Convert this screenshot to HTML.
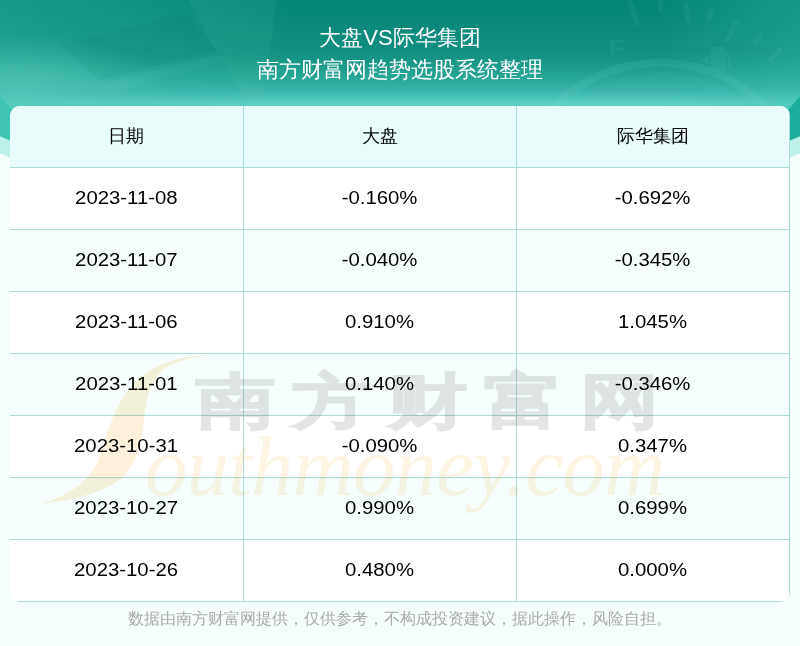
<!DOCTYPE html>
<html><head><meta charset="utf-8">
<style>
*{margin:0;padding:0;box-sizing:border-box}
html,body{width:800px;height:646px;overflow:hidden;background:#f5fefd;font-family:"Liberation Sans",sans-serif}
#bg{position:absolute;left:0;top:0;width:800px;height:646px;overflow:hidden}
.band{position:absolute;left:-575px;top:-1711px;width:1950px;height:1950px;border-radius:50%;background:#bdf0e8}
.teal{position:absolute;left:-575px;top:-1728px;width:1950px;height:1950px;border-radius:50%;
 background:linear-gradient(90deg,#3ec5b3 0px,#3ec5b3 800px,#1aad99 1360px,#1aad99 1950px)}
.hdr{position:absolute;left:-120px;top:-756px;width:1040px;height:1040px;border-radius:50%;
 background:radial-gradient(150px 50px at 140px 841px,rgba(100,210,195,0.5),rgba(100,210,195,0)),
 linear-gradient(90deg,rgba(60,190,170,0) 0px,rgba(60,190,170,0.38) 120px,rgba(60,190,170,0) 420px,rgba(60,190,170,0) 780px,rgba(60,190,170,0.34) 920px,rgba(60,190,170,0) 1040px),
 linear-gradient(180deg,#068476 756px,#078577 766px,#0f8c7d 796px,#138f82 808px,#189585 816px,#2aa898 836px,#3ab2a8 846px,#45c0b4 852px,#5ccfc2 859px,#64d4c6 886px)}
.title{position:absolute;left:0;width:800px;text-align:center;color:#fff;font-size:22px;line-height:26px}
#card{position:absolute;left:10px;top:106px;width:780px;height:496px;border-radius:10px;overflow:hidden;background:#fff}
table{border-collapse:collapse;width:779px;table-layout:fixed}
td,th{height:62px;text-align:center;font-size:18px;color:#000;font-weight:normal;border-bottom:1px solid #acdbd8;border-right:1px solid #acdbd8}
th{background:#e8fcfb;height:61px}
tr.alt td{background:#f5fefd}
td span{display:inline-block;transform:scaleX(1.13)}
.foot{position:absolute;left:0;top:609px;width:800px;text-align:center;color:#aaaaaa;font-size:16px}
.wm{position:absolute;left:0;top:0;width:800px;height:646px;pointer-events:none;overflow:hidden;isolation:auto}
.wmcn{position:absolute;top:356px;left:196px;font-family:"Liberation Sans",sans-serif;font-weight:900;font-size:80px;line-height:120px;color:#e6e5e5;-webkit-text-stroke:2px #e6e5e5;mix-blend-mode:multiply;letter-spacing:16px;white-space:nowrap;transform:scaleY(0.755);transform-origin:0 0}
.wmen{position:absolute;top:406px;left:145px;font-family:"Liberation Serif",serif;font-style:italic;font-size:85px;line-height:120px;color:#fef4e4;mix-blend-mode:multiply;letter-spacing:-0.9px;white-space:nowrap}
</style></head><body>
<div id="bg">
 <div class="band"></div>
 <div class="teal"></div>
  <div class="hdr"></div>
 <svg width="800" height="110" style="position:absolute;left:0;top:0">
  <path d="M60,45 L186,13 L216,50 L100,80 Z" fill="#006a5c" opacity="0.08"/>
  <path d="M188,0 L276,0 C272,40 268,70 262,104 L248,104 C235,80 215,50 188,0 Z" fill="#60d8b0" opacity="0.09"/>
  <path d="M100,84 L218,54 L224,62 L108,94 Z" fill="#7fe0d0" opacity="0.07"/>
  <path d="M548,113 A150,150 0 0 1 772,113" fill="none" stroke="#7fe0d0" stroke-width="8" opacity="0.11"/>
  <path d="M555,119 A142,142 0 0 1 765,119 Z" fill="#7fe0d0" opacity="0.05"/>
  <g stroke="#7fe0d0" stroke-width="5" stroke-linecap="round" opacity="0.08">
   <line x1="630" y1="3" x2="637" y2="24"/>
   <line x1="660" y1="1" x2="661" y2="10"/>
   <line x1="686" y1="4" x2="688" y2="20"/>
   <line x1="711" y1="10" x2="709" y2="20"/>
   <line x1="736" y1="22" x2="728" y2="40"/>
   <line x1="760" y1="35" x2="756" y2="42"/>
   <line x1="780" y1="50" x2="771" y2="60"/>
  </g>
  <text x="609" y="58" font-family="Liberation Sans" font-weight="bold" font-size="26" fill="#7fe0d0" opacity="0.08">F</text>
  <path d="M711,47 h14 v24 h-14 Z M701,60 l8,-5 v10 Z M726,52 l5,4 v14 h-3 v-12 l-2,-2 Z" fill="#7fe0d0" opacity="0.09"/>
 </svg>
</div>
<div class="title" style="top:25px">大盘VS际华集团</div>
<div class="title" style="top:57px">南方财富网趋势选股系统整理</div>
<div id="card">
<table>
<colgroup><col style="width:233px"><col style="width:273px"><col style="width:273px"></colgroup>
<tr><th>日期</th><th>大盘</th><th>际华集团</th></tr>
<tr><td><span>2023-11-08</span></td><td><span>-0.160%</span></td><td><span>-0.692%</span></td></tr>
<tr class="alt"><td><span>2023-11-07</span></td><td><span>-0.040%</span></td><td><span>-0.345%</span></td></tr>
<tr><td><span>2023-11-06</span></td><td><span>0.910%</span></td><td><span>1.045%</span></td></tr>
<tr class="alt"><td><span>2023-11-01</span></td><td><span>0.140%</span></td><td><span>-0.346%</span></td></tr>
<tr><td><span>2023-10-31</span></td><td><span>-0.090%</span></td><td><span>0.347%</span></td></tr>
<tr class="alt"><td><span>2023-10-27</span></td><td><span>0.990%</span></td><td><span>0.699%</span></td></tr>
<tr><td><span>2023-10-26</span></td><td><span>0.480%</span></td><td><span>0.000%</span></td></tr>
</table>
</div>
<div class="wm">
 <svg width="800" height="646" style="position:absolute;left:0;top:0">
  <path d="M209,355.5 C180,355 150,365 132,385 C115,405 108,430 100,455 C92,480 70,495 40.5,504 C75,500 105,492 122,478 C138,462 142,440 144,420 C146,400 150,380 165,368 C178,360 195,357 209,355.5 Z" fill="#fdf1dc" style="mix-blend-mode:multiply"/>
 </svg>
 <div class="wmcn">南方财富网</div>
 <div class="wmen">outhmoney.com</div>
</div>
<div class="foot">数据由南方财富网提供，仅供参考，不构成投资建议，据此操作，风险自担。</div>
</body></html>
